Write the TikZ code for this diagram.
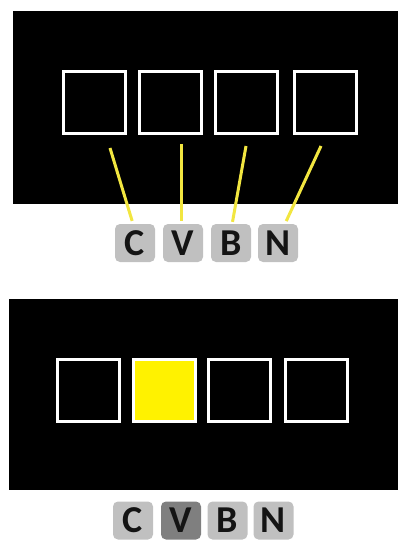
\documentclass[tikz,border=0pt]{standalone}
\usepackage{fontspec}
\setmainfont{Carlito}
\usepackage{tikz}
\usepackage{xcolor}
\usetikzlibrary{positioning,calc}
\definecolor{screen}{HTML}{000000}
\definecolor{keygray}{HTML}{C0C0C0}
\definecolor{keydown}{HTML}{7F7F7F}
\definecolor{keyink}{HTML}{141414}
\definecolor{lit}{HTML}{FFF200}
\definecolor{wire}{HTML}{F2E640}
\tikzset{
  slot/.style={draw=white,fill=screen,line width=3pt,
               minimum width=62pt,minimum height=62pt,inner sep=0pt},
  litslot/.style={slot,fill=lit},
  keycap/.style={fill=keygray,rounded corners=5pt,
                 minimum width=40pt,minimum height=38pt,inner sep=0pt,
                 text=keyink,font=\fontsize{38}{38}\selectfont\bfseries},
  pressed/.style={keycap,fill=keydown},
  wireline/.style={draw=wire,line width=3pt,shorten >=3pt}
}
\begin{document}
\begin{tikzpicture}[x=1pt,y=-1pt]
  \useasboundingbox (0,0) rectangle (398,540);
  % top panel: keys mapped to slots
  \fill[screen] (13,11) rectangle (398,204);
  \node[slot] (s1) at (94.5,102.5) {};
  \node[slot] (s2) at (170.5,102.5) {};
  \node[slot] (s3) at (246.5,102.5) {};
  \node[slot] (s4) at (325.5,102.5) {};
  \node[keycap] (kC) at (135,243) {C};
  \node[keycap] (kV) at (183,243) {V};
  \node[keycap] (kB) at (231,243) {B};
  \node[keycap] (kN) at (278,243) {N};
  \coordinate (t1) at (110,148);
  \coordinate (t2) at (181,144);
  \coordinate (t3) at (246,146);
  \coordinate (t4) at (321,146);
  \draw[wireline] (t1) -- ([xshift=-2pt]kC.north);
  \draw[wireline] (t2) -- ([xshift=-2pt]kV.north);
  \draw[wireline] (t3) -- ([xshift=1pt,yshift=-1pt]kB.north);
  \draw[wireline] (t4) -- ([xshift=7pt]kN.north);
  % bottom panel: V pressed
  \fill[screen] (9,299) rectangle (398,490);
  \node[slot] (b1) at (88.5,390) {};
  \node[litslot] (b2) at (164,390) {};
  \node[slot] (b3) at (239,390) {};
  \node[slot] (b4) at (316,390) {};
  \node[keycap] (pC) at (133,520.5) {C};
  \node[pressed] (pV) at (181,520.5) {V};
  \node[keycap] (pB) at (227.5,520.5) {B};
  \node[keycap] (pN) at (273.5,520.5) {N};
\end{tikzpicture}
\end{document}
